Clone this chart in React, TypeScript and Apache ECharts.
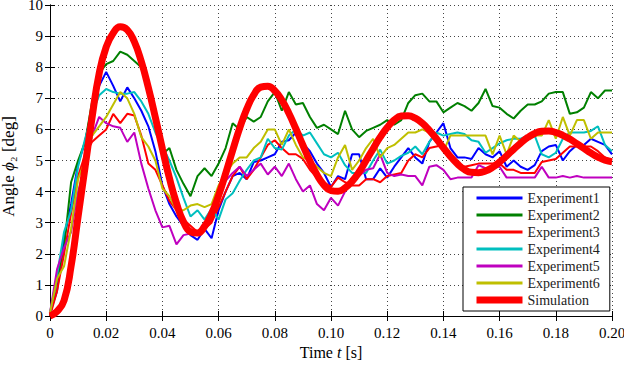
import React, { useEffect, useRef } from "react";
import * as echarts from "echarts";

const time = [
  0, 0.0025, 0.005, 0.0075, 0.01, 0.0125, 0.015, 0.0175, 0.02, 0.0225,
  0.025, 0.0275, 0.03, 0.0325, 0.035, 0.0375, 0.04, 0.0425, 0.045, 0.0475,
  0.05, 0.0525, 0.055, 0.0575, 0.06, 0.0625, 0.065, 0.0675, 0.07, 0.0725,
  0.075, 0.0775, 0.08, 0.0825, 0.085, 0.0875, 0.09, 0.0925, 0.095, 0.0975,
  0.1, 0.1025, 0.105, 0.1075, 0.11, 0.1125, 0.115, 0.1175, 0.12, 0.1225,
  0.125, 0.1275, 0.13, 0.1325, 0.135, 0.1375, 0.14, 0.1425, 0.145, 0.1475,
  0.15, 0.1525, 0.155, 0.1575, 0.16, 0.1625, 0.165, 0.1675, 0.17, 0.1725,
  0.175, 0.1775, 0.18, 0.1825, 0.185, 0.1875, 0.19, 0.1925, 0.195, 0.1975,
  0.2,
];

const experiment1 = [
  0.1, 0.8, 2.5, 3.6, 4.9, 5.6, 6.7, 7.4, 7.85, 7.4,
  6.9, 7.35, 7.0, 6.6, 6.1, 5.3, 4.2, 3.6, 3.2, 2.9,
  2.6, 2.45, 2.8, 2.5, 3.4, 4.0, 4.5, 4.6, 4.4, 4.95,
  5.0, 5.1, 5.2, 5.6, 5.65, 5.9, 5.55, 5.3, 4.9, 4.6,
  4.15, 4.5, 4.4, 5.2, 5.2, 4.4, 4.4, 4.75, 4.45, 4.8,
  5.1, 5.4, 5.1, 4.9, 5.6, 5.9, 6.2, 5.4, 5.1, 5.1,
  5.05, 5.4, 5.2, 5.1, 5.3, 4.8, 5.0, 4.8, 4.7, 4.85,
  5.3, 5.45, 5.5, 5.0, 5.3, 5.5, 5.5, 5.7, 5.6, 5.5,
  5.2,
];

const experiment2 = [
  0.0, 1.2, 2.2, 4.3, 5.0, 5.6, 6.9, 7.8, 8.1, 8.2,
  8.5, 8.4, 8.2, 8.0, 7.4, 6.2, 5.2, 5.4, 4.7, 4.25,
  3.85, 4.5, 4.75, 4.5, 4.9, 5.4, 6.2, 6.0, 6.4, 6.25,
  6.4, 6.9, 7.2, 6.6, 7.2, 6.8, 6.85, 6.4, 6.05, 6.15,
  6.0, 5.85, 6.6, 6.0, 5.75, 5.95, 6.05, 6.15, 6.3, 6.15,
  6.3, 6.85, 7.1, 7.15, 6.9, 6.9, 6.55, 6.7, 6.85, 6.75,
  6.6, 6.85, 7.3, 6.75, 6.7, 6.5, 6.35, 6.6, 6.8, 6.8,
  6.9, 7.15, 7.2, 7.2, 6.5, 6.55, 6.7, 7.2, 7.0, 7.25,
  7.25,
];

const experiment3 = [
  0.0, 0.8, 2.0, 3.3, 4.5, 5.2, 5.6, 5.8, 6.0, 6.5,
  6.2, 6.5, 6.45, 5.8, 4.9, 4.7, 4.2, 3.7, 3.4, 3.1,
  2.9, 2.7, 2.8, 3.0, 3.5, 4.0, 4.5, 4.8, 4.4, 4.7,
  5.1, 5.5, 5.65, 5.4, 5.2, 5.2, 5.05, 4.7, 4.45, 4.3,
  4.15, 4.45, 4.3, 4.2, 4.2, 4.4, 4.4, 4.3, 4.5, 4.55,
  4.6, 5.0, 5.2, 5.1, 5.4, 5.45, 5.5, 5.1, 4.9, 4.8,
  4.85, 4.9, 4.9, 4.9, 4.9, 4.7, 4.7, 4.6, 4.6, 4.6,
  4.95, 5.0, 5.05, 5.25, 5.45, 5.45, 5.45, 5.45, 5.3, 5.1,
  5.0,
];

const experiment4 = [
  0.1, 1.3, 2.7, 3.4, 4.8, 5.7, 6.5, 7.1, 7.3, 7.2,
  7.15, 7.15, 7.2, 6.9, 6.5, 5.9, 5.45, 5.0, 4.45, 3.8,
  3.2, 3.4, 3.1, 3.45, 3.1, 3.75, 3.95, 4.35, 4.7, 5.0,
  5.1, 5.7, 5.4, 5.35, 5.8, 6.0, 5.8, 5.9, 5.55, 5.2,
  5.1, 5.25, 4.85, 4.6, 4.6, 4.6, 5.0, 5.35, 4.9, 5.0,
  5.15, 5.25, 5.45, 5.2, 5.6, 5.9, 5.8, 5.85, 5.9, 5.85,
  5.65, 5.6, 5.25, 5.4, 5.55, 5.65, 5.7, 5.7, 5.8, 5.8,
  5.2, 5.1, 5.25, 5.7, 5.9, 5.9, 5.9, 5.95, 6.1, 5.5,
  5.3,
];

const experiment5 = [
  0.1, 1.5, 2.2, 2.7, 4.0, 4.8, 5.8, 6.4, 6.2, 6.1,
  6.05, 5.6, 5.9, 4.9, 4.1, 3.4, 2.85, 2.9, 2.3, 2.6,
  2.65, 2.7, 2.8, 3.4, 4.1, 4.35, 4.6, 4.8, 4.5, 4.7,
  4.9, 4.55, 4.8, 4.5, 4.9, 4.4, 4.0, 4.2, 3.6, 3.4,
  3.8, 3.55, 4.0, 4.3, 4.5, 4.7, 4.75, 5.2, 4.6, 4.5,
  4.55, 4.5, 4.5, 4.2, 4.8, 4.85, 4.7, 4.4, 4.45, 4.45,
  4.45, 4.85, 4.75, 4.8, 4.8, 4.45, 4.45, 4.45, 4.45, 4.45,
  4.8, 4.45, 4.45, 4.5, 4.45, 4.5, 4.45, 4.45, 4.45, 4.45,
  4.45,
];

const experiment6 = [
  0.1, 1.2, 1.6, 2.8, 4.4, 5.0, 5.8, 6.1, 6.4, 6.8,
  7.2, 7.0, 6.5, 5.75, 5.45, 5.0, 4.1, 3.85, 3.4, 3.4,
  3.55, 3.6, 3.5, 3.6, 4.2, 4.6, 4.9, 5.1, 5.1, 5.4,
  5.6, 6.0, 6.0, 5.5, 6.0, 5.5, 5.1, 5.0, 4.8, 4.6,
  4.5, 5.1, 5.5, 4.7, 5.0, 5.4, 5.7, 5.1, 5.4, 5.5,
  5.7, 5.9, 5.9, 6.0, 5.9, 5.8, 5.3, 5.8, 5.8, 5.8,
  5.8, 5.8, 5.8, 5.2, 5.8, 5.2, 5.8, 5.6, 5.8, 5.8,
  5.8, 6.3, 5.7, 6.4, 5.8, 6.3, 6.3, 5.7, 5.9, 5.9,
  5.9,
];

const simulation = [
  0, 0.15, 0.5, 1.6, 3.2, 4.8, 6.4, 7.8, 8.65, 9.1,
  9.3, 9.2, 8.82, 8.18, 7.34, 6.38, 5.38, 4.43, 3.63, 3.03,
  2.71, 2.67, 2.88, 3.29, 3.88, 4.58, 5.32, 6.04, 6.65, 7.11,
  7.36, 7.39, 7.24, 6.94, 6.52, 6.02, 5.49, 4.98, 4.54, 4.21,
  4.03, 4.01, 4.12, 4.33, 4.63, 5.0, 5.38, 5.75, 6.06, 6.3,
  6.43, 6.44, 6.36, 6.2, 5.97, 5.7, 5.41, 5.13, 4.89, 4.71,
  4.62, 4.61, 4.66, 4.78, 4.95, 5.15, 5.36, 5.56, 5.74, 5.87,
  5.94, 5.95, 5.9, 5.81, 5.69, 5.54, 5.39, 5.24, 5.11, 5.01,
  4.96,
];

const seriesNames = [
  "Experiment1",
  "Experiment2",
  "Experiment3",
  "Experiment4",
  "Experiment5",
  "Experiment6",
  "Simulation",
];
const seriesColors = [
  "#0000ff",
  "#008000",
  "#ff0000",
  "#00bfbf",
  "#bf00bf",
  "#bfbf00",
  "#ff0000",
];
const seriesValues = [
  experiment1,
  experiment2,
  experiment3,
  experiment4,
  experiment5,
  experiment6,
  simulation,
];

const FONT = "Liberation Serif";

export default function App() {
  const ref = useRef<HTMLDivElement>(null);

  useEffect(() => {
    if (!ref.current) return;
    const chart = echarts.init(ref.current, null, { renderer: "svg" });

    const gridLine = { show: true, lineStyle: { type: [1, 3], color: "#444", width: 1 } };
    const axisLine = { show: true, lineStyle: { color: "#000", width: 1 } };
    const axisTick = { show: true, inside: true, length: 5, lineStyle: { color: "#000", width: 1 } };
    const legendText = {
      fontFamily: FONT,
      fontSize: 14,
      color: "#222",
      rich: { s: { fontFamily: FONT, fontSize: 14, color: "#222" } },
    };

    const series = seriesNames.map((name, k) => {
      const isSim = name === "Simulation";
      return {
        name,
        type: "line",
        data: time.map((t, i) => [t, seriesValues[k][i]]),
        symbol: "none",
        showSymbol: false,
        smooth: isSim,
        z: isSim ? 5 : 3,
        color: seriesColors[k],
        lineStyle: { color: seriesColors[k], width: isSim ? 7 : 2 },
      };
    });

    chart.setOption({
      animation: false,
      backgroundColor: "#fff",
      textStyle: { fontFamily: FONT },
      grid: { left: 50, right: 12, top: 5, bottom: 50, outerBoundsMode: "none", containLabel: false },
      legend: {
        data: seriesNames.map((name) => ({
          name,
          lineStyle: { width: name === "Simulation" ? 7 : 3 },
          itemStyle: { opacity: 0, borderWidth: 0 },
        })),
        formatter: (name: string) => `{s|${name}}`,
        orient: "vertical",
        left: 463,
        top: 187,
        padding: [4, 10, 4, 10],
        itemWidth: 46,
        itemHeight: 14,
        itemGap: 3,
        itemStyle: { opacity: 0, borderWidth: 0 },
        backgroundColor: "#fff",
        borderColor: "#000",
        borderWidth: 1,
        borderRadius: 0,
        textStyle: legendText,
      },
      xAxis: [
        {
          type: "value",
          min: 0,
          max: 0.2,
          interval: 0.02,
          position: "bottom",
          axisLine,
          axisTick,
          splitLine: gridLine,
          axisLabel: {
            fontFamily: FONT,
            fontSize: 15,
            color: "#000",
            margin: 9,
            formatter: (v: number) => (v === 0 ? "0" : v.toFixed(2)),
          },
          name: "Time {i|t} [s]",
          nameLocation: "middle",
          nameGap: 27,
          nameTextStyle: {
            fontFamily: FONT,
            fontSize: 16,
            color: "#000",
            rich: { i: { fontFamily: FONT, fontSize: 16, fontStyle: "italic", color: "#000" } },
          },
        },
        {
          type: "value",
          min: 0,
          max: 0.2,
          interval: 0.02,
          position: "top",
          axisLine,
          axisTick,
          splitLine: { show: false },
          axisLabel: { show: false },
        },
      ],
      yAxis: [
        {
          type: "value",
          min: 0,
          max: 10,
          interval: 1,
          position: "left",
          axisLine,
          axisTick,
          splitLine: gridLine,
          axisLabel: { fontFamily: FONT, fontSize: 15, color: "#000", margin: 7 },
          name: "Angle {i|ϕ}₂ [deg]",
          nameLocation: "middle",
          nameGap: 23,
          nameRotate: 90,
          nameTextStyle: {
            fontFamily: FONT,
            fontSize: 17,
            color: "#000",
            padding: [0, 12, 0, 0],
            rich: { i: { fontFamily: FONT, fontSize: 17, fontStyle: "italic", color: "#000" } },
          },
        },
        {
          type: "value",
          min: 0,
          max: 10,
          interval: 1,
          position: "right",
          axisLine,
          axisTick,
          splitLine: { show: false },
          axisLabel: { show: false },
        },
      ],
      series,
    });

    return () => chart.dispose();
  }, []);

  return <div ref={ref} style={{ width: 624, height: 366, position: "absolute", left: 0, top: 0 }} />;
}
